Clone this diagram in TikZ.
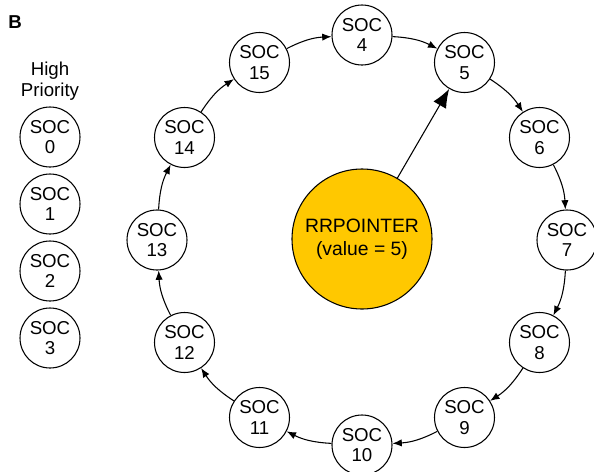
\documentclass[tikz,border=0pt]{standalone}
\usepackage{fontspec}
\setmainfont{Liberation Sans}
\usetikzlibrary{arrows.meta}

\tikzset{
  soc/.style={circle, draw, line width=0.8pt, minimum size=45pt, inner sep=0pt,
    align=center, font=\fontsize{14}{15.5}\selectfont},
  ring/.style={line width=0.8pt, -{Latex[length=7pt,width=5.5pt]}}
}

\begin{document}
\begin{tikzpicture}[x=0.75pt,y=0.75pt]
                        \useasboundingbox (0,0) rectangle (594,-472);
                        % Label
                        \node[font=\fontsize{14}{16}\selectfont\bfseries] (lbl) at (15,-22) {B};

                        % High priority column
                        \node[align=center, font=\fontsize{14}{16}\selectfont] (hp) at (50,-81) {High\\Priority};
                        \node[soc] (0) at (50,-137) {SOC\\0};
                        \node[soc] (1) at (50,-204) {SOC\\1};
                        \node[soc] (2) at (50,-271) {SOC\\2};
                        \node[soc] (3) at (50,-338) {SOC\\3};

                        % Ring nodes
                        \node[soc] (4) at (362,-35) {SOC\\4};
                        \node[soc] (5) at (464.5,-62.5) {SOC\\5};
                        \node[soc] (6) at (539.5,-137.5) {SOC\\6};
                        \node[soc] (7) at (567,-240) {SOC\\7};
                        \node[soc] (8) at (539.5,-342.5) {SOC\\8};
                        \node[soc] (9) at (464.5,-417.5) {SOC\\9};
                        \node[soc] (10) at (362,-445) {SOC\\10};
                        \node[soc] (11) at (259.5,-417.5) {SOC\\11};
                        \node[soc] (12) at (184.5,-342.5) {SOC\\12};
                        \node[soc] (13) at (157,-240) {SOC\\13};
                        \node[soc] (14) at (184.5,-137.5) {SOC\\14};
                        \node[soc] (15) at (259.5,-62.5) {SOC\\15};

                        % Pointer
                        \node[circle, draw, line width=0.8pt, fill={rgb,255:red,255;green,200;blue,0},
                          minimum size=105pt, inner sep=0pt, align=center,
                          font=\fontsize{14.5}{17.5}\selectfont] (ptr) at (362,-239) {RRPOINTER\\(value = 5)};

                        % Edges
                        \foreach \a/\b in {4/5,5/6,6/7,7/8,8/9,9/10,10/11,11/12,12/13,13/14,14/15,15/4}
                          \draw[ring] (\a) to[bend left=12] (\b);
                        \draw[line width=0.8pt, -{Latex[length=14pt,width=11pt]}] (ptr) -- (5);
                    \end{tikzpicture}
\end{document}
